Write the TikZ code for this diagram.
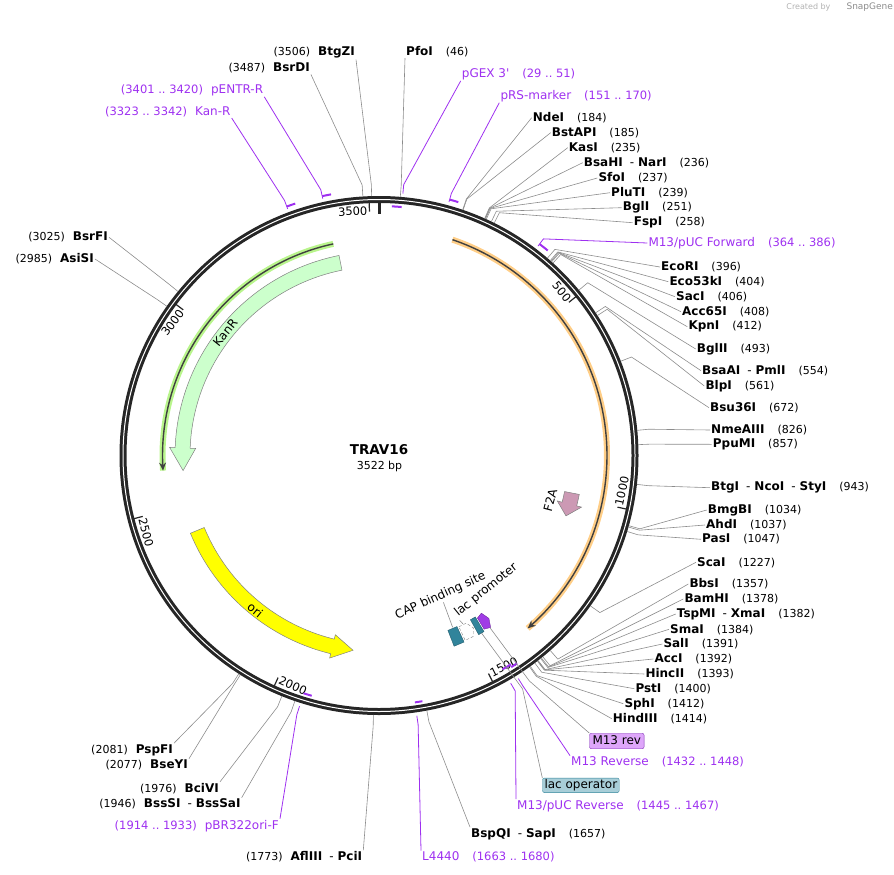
\documentclass[tikz,border=0pt]{standalone}
\usepackage{fontspec}
\setmainfont{DejaVu Sans}
\usetikzlibrary{arrows.meta,calc}
\definecolor{primer}{RGB}{158,48,240}
\definecolor{kanfill}{RGB}{204,255,204}
\definecolor{orifill}{RGB}{255,255,0}
\definecolor{fafill}{RGB}{204,153,180}
\definecolor{capteal}{RGB}{49,132,155}
\definecolor{orfor}{RGB}{255,206,135}
\definecolor{orfgr}{RGB}{185,245,140}
\definecolor{opbox}{RGB}{168,206,216}
\definecolor{revbox}{RGB}{222,166,250}
\definecolor{revfill}{RGB}{160,60,230}
\newcommand\ang[1]{(#1*0.1022147-90)}
\newcommand\enzsep{\hspace{7pt}{\mdseries-}\hspace{4pt}}
\newcommand\rsite[2]{{\bfseries #1}\hspace{13pt}{\fontsize{11}{13}\selectfont(#2)}}
\newcommand\lsite[2]{{\fontsize{11}{13}\selectfont(#2)}\hspace{8pt}{\bfseries #1}}
\begin{document}
\begin{tikzpicture}[x=1pt,y=-1pt,
    cut/.style={draw=black!45,line width=0.6pt},
    lab/.style={inner sep=1pt,font=\fontsize{12}{14}\selectfont},
    plab/.style={lab,text=primer},
    pcut/.style={draw=primer,line width=0.8pt},
    pbar/.style={draw=primer,line width=2pt},
    feat/.style={draw=black!50,line width=0.5pt},
    orf/.style={black!75,line width=1.4pt,-{Stealth[length=8pt,width=7pt]}}]
\useasboundingbox (0,0) rectangle (894,875);
\coordinate (c) at (379,455.5);

\node[font=\fontsize{8}{9}\selectfont,text=black!30,anchor=east] (wm) at (834,7) {Created by};
\node[font=\fontsize{9}{10}\selectfont,text=black!45,anchor=west] (sg) at (843,7) {SnapGene};

\begin{scope}[shift={(c)}]
    \draw[orfor,line width=6pt] plot[domain=-71.2:49.3,samples=90] (\x:228);
    \draw[orf] plot[domain=-71.2:49.3,samples=90] (\x:228);
    \draw[orfgr,line width=6pt] plot[domain=-102.2:-184,samples=60] (\x:216.5);
    \draw[orf] plot[domain=-102.2:-184,samples=60] (\x:216.5);

    \draw[feat,fill=kanfill] plot[domain=-101.3:-177.8,samples=60] (\x:204) -- (-177.8:209.5)
        -- (-184.4:196.5) -- (-177.8:183.5) -- plot[domain=-177.8:-101.3,samples=60] (\x:189) -- cycle;
    \draw[feat,fill=orifill] plot[domain=-202.4:-256.3,samples=50] (\x:204) -- (-256.3:208.5)
        -- (-262.4:196.5) -- (-256.3:184.5) -- plot[domain=-256.3:-202.4,samples=50] (\x:189) -- cycle;
    \draw[feat,fill=fafill] plot[domain=11:14.3,samples=5] (\x:204) -- (14.3:209)
        -- (17.9:196.5) -- (14.3:184) -- plot[domain=14.3:11,samples=5] (\x:189) -- cycle;
    \node[lab,rotate=51.3] (kanr) at (-141.3:197) {KanR};
    \node[lab,rotate=-38.7] (ori) at (-231.3:198) {ori};
    \node[lab,rotate=75.3] (f2a) at (14.7:177) {F2A};

    \draw[capteal!70!black,fill=capteal,line width=0.4pt] (65.5:188) -- (68.5:188) -- (68.5:205) -- (65.5:205) -- cycle;
    \draw[black!50,densely dashed,fill=white,line width=0.4pt] (65:189) -- (62.5:189) -- (61.3:196.5) -- (62.5:204) -- (65:204) -- cycle;
    \draw[capteal!70!black,fill=capteal,line width=0.4pt] (59.2:188) -- (60.9:188) -- (60.9:205) -- (59.2:205) -- cycle;
    \draw[revfill!70!black,fill=revfill,line width=0.4pt] (58.8:190) -- (58.8:203) -- (57:205) -- (56:196.5) -- (57:188) -- cycle;

    \draw[black!85,line width=7pt] (0,0) circle[radius=256];
    \draw[white,line width=1pt] (0,0) circle[radius=256];
    \foreach \p in {500,1000,...,3500}
        \draw[black!85,line width=1.2pt] ({\ang{\p}}:253) -- ({\ang{\p}}:244);
    \draw[black!85,line width=3pt] (-90:255) -- (-90:242);
    \foreach \p/\r/\d in {500/-51.1/3.0,1000/77.8/3.9,1500/26.7/3.9,2000/-24.4/3.9,2500/-75.5/3.9,3000/53.4/3.9,3500/2.2/3.9}
        \node[font=\fontsize{11.5}{13}\selectfont,inner sep=0pt,rotate=\r] (t\p) at ({\ang{\p}-\d}:245.5) {\p};
\end{scope}

\node[font=\fontsize{13.5}{15}\selectfont\bfseries] (name) at (379,450) {TRAV16};
\node[font=\fontsize{11}{13}\selectfont] (size) at (379.5,466) {3522 bp};

\foreach \p/\lx/\ly/\en/\nm in {46/405/51.7/south west/PfoI,
    184/531.7/117.7/west/NdeI, 185/550.7/132.7/west/BstAPI, 235/567.7/147.7/west/KasI,
    236/582.7/162.7/west/BsaHI\enzsep NarI, 237/597.3/178/west/SfoI, 239/610/192.7/west/PluTI,
    251/621.7/207.7/west/BglI, 258/632.7/222.7/west/FspI, 396/660/267/west/EcoRI,
    404/668.3/281.7/west/Eco53kI, 406/675/296.7/west/SacI, 408/681/311.7/west/Acc65I,
    412/687.3/326.7/west/KpnI, 493/695.7/349/west/BglII, 554/701/370.7/west/BsaAI\enzsep PmlI,
    561/704.3/386/west/BlpI, 672/709/407.7/west/Bsu36I, 826/710/430/west/NmeAIII,
    857/711.7/444.3/west/PpuMI, 943/710/487.7/west/BtgI\enzsep NcoI\enzsep StyI,
    1034/706.7/510/west/BmgBI, 1037/705/525/west/AhdI, 1047/701/539.3/west/PasI,
    1227/696/562.3/west/ScaI, 1357/688.3/584/west/BbsI, 1378/683.3/599/west/BamHI,
    1382/675.7/614/west/TspMI\enzsep XmaI, 1384/669/629.3/west/SmaI, 1391/662.3/644/west/SalI,
    1392/653.3/659/west/AccI, 1393/644.3/674/west/HincII, 1400/634.3/688.7/west/PstI,
    1412/623.3/703.7/west/SphI, 1414/611.7/718.7/west/HindIII, 1657/470/834/north west/BspQI\enzsep SapI}
{
    \coordinate (s\p) at ($(c)+({\ang{\p}}:259.5)$);
    \coordinate (k\p) at ($(c)+({\ang{\p}}:271)$);
    \node[lab,anchor=west] (e\p) at (\lx,\ly) {\rsite{\nm}{\p}};
    \draw[cut] (s\p) -- (k\p) -- (e\p.\en);
}

\foreach \p/\lx/\ly/\en/\nm in {3506/356/52.7/south east/BtgZI, 3487/311/68.3/south east/BsrDI,
    3025/109/237.3/east/BsrFI, 2985/95/259/east/AsiSI, 2081/174/750/north east/PspFI,
    2077/189/765/north east/BseYI, 1976/220/788.3/north east/BciVI,
    1946/241.7/804/north east/BssSI\enzsep BssSaI, 1773/363.3/856.7/north east/AflIII\enzsep PciI}
{
    \coordinate (s\p) at ($(c)+({\ang{\p}}:259.5)$);
    \coordinate (k\p) at ($(c)+({\ang{\p}}:271)$);
    \node[lab,anchor=east] (e\p) at (\lx,\ly) {\lsite{\nm}{\p}};
    \draw[cut] (s\p) -- (k\p) -- (e\p.\en);
}

\foreach \ps/\pe/\pf/\pr/\lx/\ly/\en/\nm in {29/51/51/249.5/460.7/74/south west/{pGEX 3\textquotesingle},
    151/170/151/265.5/499.3/95.7/south west/pRS-marker, 364/386/364/265.5/647.3/243/west/{M13/pUC Forward},
    1432/1448/1448/249.5/570/762/north west/{M13 Reverse}, 1445/1467/1467/247/516/806/north west/{M13/pUC Reverse},
    1663/1680/1680/249.5/421/857/north west/L4440}
{
    \draw[pbar] plot[variable=\t,domain={\ang{\ps}}:{\ang{\pe}},samples=6] ({379+\pr*cos(\t)},{455.5+\pr*sin(\t)});
    \coordinate (q\ps) at ($(c)+({\ang{\pf}}:263)$);
    \coordinate (r\ps) at ($(c)+({\ang{\pf}}:272)$);
    \node[plab,anchor=west] (p\ps) at (\lx,\ly) {\nm\hspace{13pt}{\fontsize{11.5}{13}\selectfont(\ps\ ..\ \pe)}};
    \draw[pcut] (q\ps) -- (r\ps) -- (p\ps.\en);
}

\foreach \ps/\pe/\pf/\pr/\lx/\ly/\en/\nm in {3323/3342/3323/265.5/231.7/111.7/south east/Kan-R,
    3401/3420/3401/265.5/264.3/90/south east/pENTR-R, 1914/1933/1933/249.5/280/825.7/north east/pBR322ori-F}
{
    \draw[pbar] plot[variable=\t,domain={\ang{\ps}}:{\ang{\pe}},samples=6] ({379+\pr*cos(\t)},{455.5+\pr*sin(\t)});
    \coordinate (q\ps) at ($(c)+({\ang{\pf}}:263)$);
    \coordinate (r\ps) at ($(c)+({\ang{\pf}}:272)$);
    \node[plab,anchor=east] (p\ps) at (\lx,\ly) {{\fontsize{11.5}{13}\selectfont(\ps\ ..\ \pe)}\hspace{8pt}\nm};
    \draw[pcut] (q\ps) -- (r\ps) -- (p\ps.\en);
}

\node[lab,rotate=24.6] (caplab) at (440.5,596) {CAP binding site};
\node[lab,rotate=39] (lplab) at (486,590) {lac promoter};
\coordinate (fcap) at ($(c)+(66.8:187)$);
\coordinate (flp) at ($(c)+(63.5:188)$);
\draw[cut] (fcap) -- (caplab.south);
\draw[cut] (flp) -- (lplab.south west);

\node[lab,anchor=west,draw=revfill!80!black,fill=revbox,rounded corners=2pt,inner xsep=3pt,inner ysep=2pt,text height=9pt,text depth=2.5pt] (m13rev) at (589.3,741) {M13 rev};
\node[lab,anchor=west,draw=capteal,fill=opbox,rounded corners=2pt,inner xsep=2pt,inner ysep=1.5pt,text height=9pt,text depth=2.5pt] (lacop) at (542.3,785.3) {lac operator};
\coordinate (frev) at ($(c)+(57.2:205)$);
\coordinate (krev) at ($(c)+(56.3:271)$);
\coordinate (fop) at ($(c)+(60:205)$);
\coordinate (kop) at ($(c)+(58.4:274)$);
\draw[cut] (frev) -- (krev) -- (m13rev.north west);
\draw[cut] (fop) -- (kop) -- (lacop.north west);
\end{tikzpicture}
\end{document}
